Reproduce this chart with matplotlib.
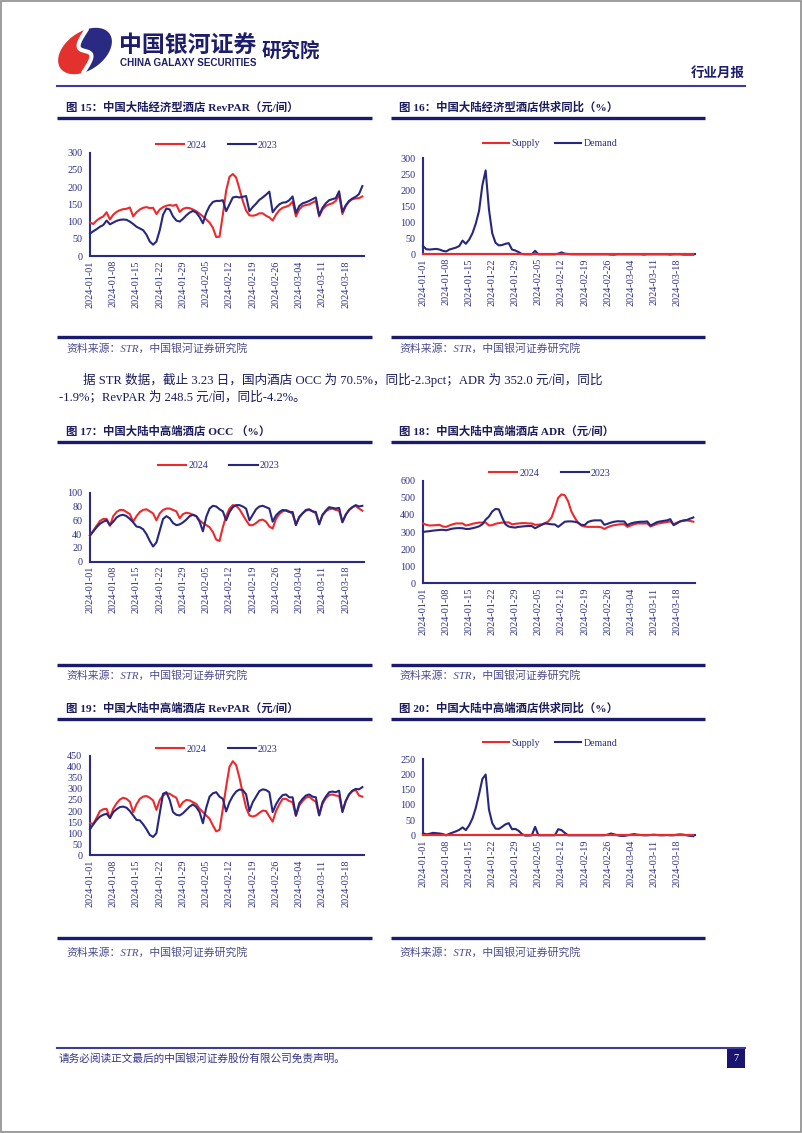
import matplotlib
matplotlib.use("Agg")
import matplotlib.pyplot as plt
from matplotlib.patches import Rectangle, Polygon
import numpy as np

plt.rcParams['font.family'] = ['Liberation Serif', 'Noto Sans CJK SC']

# ---- data (daily, 2024-01-01 .. 2024-03-23) ----
tick_labels = ["2024-01-01", "2024-01-08", "2024-01-15", "2024-01-22", "2024-01-29", "2024-02-05",
               "2024-02-12", "2024-02-19", "2024-02-26", "2024-03-04", "2024-03-11", "2024-03-18"]

econ_revpar_2024 = [97, 93, 103, 110, 115, 127, 106,
                    120, 128, 133, 136, 137, 141, 115,
                    127, 135, 140, 142, 139, 140, 122,
                    135, 142, 146, 148, 146, 149, 128,
                    137, 140, 139, 135, 130, 123, 115,
                    106, 97, 82, 55, 56, 120, 190,
                    230, 238, 228, 195, 160, 132, 118,
                    117, 119, 124, 124, 117, 112, 103,
                    120, 133, 140, 143, 147, 158, 115,
                    135, 145, 148, 150, 155, 160, 115,
                    135, 145, 150, 153, 160, 178, 122,
                    145, 158, 165, 167, 168, 173]
econ_revpar_2023 = [65, 72, 78, 85, 90, 103, 92,
                    97, 102, 105, 106, 105, 100, 93,
                    85, 80, 75, 62, 42, 33, 42,
                    75, 120, 138, 135, 115, 103, 100,
                    108, 118, 126, 131, 126, 113, 95,
                    125, 145, 157, 160, 160, 162, 130,
                    150, 170, 172, 170, 172, 174, 130,
                    142, 152, 163, 170, 178, 187, 127,
                    140, 150, 155, 156, 162, 173, 125,
                    145, 153, 156, 160, 165, 170, 118,
                    140, 153, 162, 165, 168, 188, 128,
                    147, 160, 167, 172, 180, 203]

econ_supply = [1, 1, 1, 1, 1, 1, 1,
               1, 1, 1, 1, 1, 1, 1,
               1, 1, 1, 1, 1, 1, 1,
               1, 1, 1, 1, 1, 1, 1,
               1, 1, 1, 1, 1, 1, 1,
               1, 1, 1, 1, 1, 1, 1,
               1, 1, 1, 1, 1, 1, 1,
               1, 1, 1, 1, 1, 1, 1,
               1, 1, 1, 1, 1, 1, 1,
               1, 1, 1, 1, 1, 1, 1,
               1, 1, 1, 1, 1, 1, 1,
               1, 1, 1, 1, 1, 1]
econ_demand = [25, 15, 14, 15, 16, 14, 10,
               8, 14, 17, 20, 25, 42, 32,
               45, 65, 95, 135, 215, 262, 140,
               65, 35, 27, 28, 32, 34, 14,
               11, 6, 0, -1, -1, -1, 10,
               -1, -1, -1, -1, -1, -1, 1,
               5, 1, 0, -1, -1, -1, -1,
               -1, -1, -1, -1, -1, -1, -1,
               -1, -2, -2, -1, -1, -1, -1,
               -1, -1, -1, -1, -2, -1, -1,
               -1, -1, -1, -1, -1, -2, -1,
               -1, -1, -2, -2, -2, -2]

mid_occ_2024 = [38, 45, 52, 59, 62, 62, 52,
                66, 72, 75, 75, 72, 69, 58,
                66, 72, 75, 76, 73, 70, 60,
                70, 75, 77, 77, 75, 73, 63,
                69, 71, 70, 68, 66, 60, 56,
                53, 50, 43, 32, 30, 50, 66,
                77, 82, 81, 76, 68, 60, 53,
                53, 56, 60, 61, 58, 51, 48,
                62, 69, 73, 75, 73, 69, 54,
                64, 70, 74, 75, 73, 70, 55,
                67, 73, 76, 77, 75, 74, 58,
                68, 75, 79, 81, 77, 74]
mid_occ_2023 = [38, 44, 50, 55, 58, 60, 53,
                58, 64, 67, 68, 66, 62, 57,
                51, 50, 47, 40, 30, 22, 28,
                45, 62, 66, 63, 56, 53, 54,
                57, 61, 66, 68, 66, 58, 44,
                65, 77, 81, 80, 76, 73, 60,
                72, 79, 82, 82, 80, 77, 60,
                68, 76, 80, 81, 79, 77, 58,
                67, 72, 75, 74, 72, 72, 53,
                65, 70, 75, 76, 73, 72, 54,
                68, 74, 79, 78, 77, 78, 57,
                68, 75, 79, 82, 80, 81]

mid_adr_2024 = [350, 342, 338, 339, 340, 342, 332,
                330, 338, 345, 350, 350, 350, 338,
                342, 348, 352, 355, 355, 356, 338,
                340, 348, 352, 355, 356, 356, 345,
                348, 350, 352, 352, 350, 350, 342,
                343, 345, 352, 362, 385, 440, 500,
                520, 515, 480, 420, 385, 355, 338,
                332, 330, 330, 330, 330, 328, 318,
                328, 335, 340, 343, 345, 346, 330,
                338, 345, 350, 350, 350, 350, 332,
                340, 348, 352, 355, 358, 362, 345,
                355, 362, 365, 368, 365, 360]
mid_adr_2023 = [300, 303, 305, 308, 310, 312, 313,
                310, 315, 320, 322, 323, 322, 318,
                318, 322, 327, 333, 345, 372, 390,
                420, 435, 432, 385, 345, 332, 328,
                326, 330, 332, 334, 335, 335, 322,
                332, 342, 350, 348, 345, 344, 330,
                345, 360, 362, 362, 360, 355, 342,
                340, 358, 365, 368, 368, 368, 342,
                348, 355, 360, 363, 362, 362, 340,
                350, 355, 358, 360, 360, 362, 338,
                348, 358, 362, 365, 368, 375, 340,
                350, 362, 368, 370, 378, 385]

mid_revpar_2024 = [145, 142, 170, 200, 208, 210, 168,
                   210, 235, 252, 260, 255, 242, 195,
                   230, 255, 265, 268, 260, 248, 205,
                   250, 270, 280, 278, 268, 260, 218,
                   240, 250, 248, 240, 232, 210, 195,
                   180, 165, 135, 108, 115, 210, 310,
                   400, 425, 408, 350, 280, 215, 180,
                   175, 180, 192, 202, 200, 175, 152,
                   200, 230, 255, 255, 245, 240, 178,
                   225, 245, 260, 265, 252, 242, 182,
                   232, 258, 272, 275, 270, 268, 200,
                   245, 275, 290, 295, 270, 265]
mid_revpar_2023 = [118, 140, 160, 175, 183, 188, 168,
                   195, 208, 218, 220, 215, 200, 180,
                   160, 158, 140, 118, 92, 83, 100,
                   190, 278, 285, 250, 195, 183, 180,
                   190, 205, 220, 230, 218, 195, 145,
                   215, 265, 280, 285, 265, 255, 198,
                   240, 268, 288, 297, 295, 275, 200,
                   240, 265, 290, 298, 295, 285, 195,
                   230, 255, 272, 275, 262, 262, 180,
                   235, 255, 270, 275, 265, 262, 180,
                   240, 265, 285, 288, 285, 292, 195,
                   245, 275, 292, 300, 298, 308]

mid_supply = [2, 2, 2, 2, 2, 2, 2,
              2, 2, 2, 2, 2, 2, 2,
              2, 2, 2, 2, 2, 2, 2,
              2, 2, 2, 2, 2, 2, 2,
              2, 2, 2, 2, 2, 2, 2,
              2, 2, 2, 2, 2, 2, 2,
              2, 2, 2, 2, 2, 2, 2,
              2, 2, 2, 2, 2, 2, 2,
              2, 2, 2, 2, 2, 2, 2,
              2, 2, 2, 2, 2, 2, 2,
              2, 2, 2, 2, 2, 2, 2,
              2, 2, 2, 2, 2, 2]
mid_demand = [7, 3, 5, 8, 7, 6, 4,
              0, 5, 9, 13, 18, 26, 17,
              33, 55, 90, 135, 185, 200, 85,
              40, 22, 21, 28, 36, 40, 20,
              21, 15, 4, -1, -1, 0, 28,
              0, 0, 0, 0, 0, 0, 20,
              17, 8, 0, 0, 0, 0, 0,
              0, 0, 0, 0, 0, 0, 0,
              2, 6, 3, 0, -2, -2, 0,
              2, 4, 2, 1, 0, 0, 1,
              2, 1, 0, 0, 1, 0, 0,
              2, 3, 2, 0, -2, -3]

# ---- styling ----
W, H = 802, 1133
RED = '#EC2A2C'
NAVY = '#27277F'
AXC = '#2B2B85'
TXT = '#2E2E86'
DARK = '#1B1B5E'

fig = plt.figure(figsize=(W / 100, H / 100), dpi=100)
page = fig.add_axes([0, 0, 1, 1])
page.set_xlim(0, W)
page.set_ylim(H, 0)
page.axis('off')

page.add_patch(Rectangle((0.8, 0.8), W - 1.8, H - 1.8, fill=False, ec='#8c8c8c', lw=1.2))

# ---- logo ----
cx, cy, a, b = 85, 51, 30, 19
th = np.radians(35)


def to_page(u, v):
    X = u * np.cos(th) - v * np.sin(th)
    Y = u * np.sin(th) + v * np.cos(th)
    return np.column_stack([cx + X, cy - Y])


t = np.linspace(-1, 1, 60)
u0, v0 = a * np.cos(np.radians(62)), b * np.sin(np.radians(62))
cu = u0 * t - 9 * np.sin(np.pi * t)
cv = v0 * t
phi_r = np.radians(np.linspace(62, 242, 80))
phi_n = np.radians(np.linspace(242, 422, 80))
red_poly = np.vstack([to_page(a * np.cos(phi_r), b * np.sin(phi_r)), to_page(cu, cv)])
navy_poly = np.vstack([to_page(a * np.cos(phi_n), b * np.sin(phi_n)), to_page(cu[::-1], cv[::-1])])
page.add_patch(Polygon(red_poly, closed=True, fc='#E3312D', ec='none'))
page.add_patch(Polygon(navy_poly, closed=True, fc='#2B2A83', ec='none'))
sc = to_page(cu, cv)
page.plot(sc[:, 0], sc[:, 1], color='white', lw=3, solid_capstyle='round')

cjk = ['Noto Sans CJK SC']
page.text(119, 45, "中国银河证券", fontsize=16.5, weight='bold', family=cjk, color='#1D1D6B', va='center')
page.text(262, 51, "研究院", fontsize=14, weight='bold', family=cjk, color='#1D1D6B', va='center')
page.text(120, 63.5, "CHINA GALAXY SECURITIES", fontsize=7.1, weight='bold', family='Liberation Sans',
          color='#1D1D6B', va='center')
page.text(745, 73, "行业月报", fontsize=9.7, weight='bold', family=cjk, color='#1D1D6B', va='center', ha='right')
page.plot([57, 745], [86, 86], color='#3D3D99', lw=1.5)

# ---- headings / rules ----
ser_cjk = ['Liberation Serif', 'Noto Sans CJK SC']


def heading(x, y, s):
    page.text(x, y, s, fontsize=8.2, weight='bold', family=ser_cjk, color=DARK, va='center')


def rule(x0, x1, y, lw=2.4):
    page.plot([x0, x1], [y, y], color='#1A1A6E', lw=lw, solid_capstyle='butt')


def source(x, y):
    page.text(x, y, "资料来源：STR，中国银河证券研究院", fontsize=7.8, style='italic',
              family=ser_cjk, color='#4B4B90', va='center')


heading(66, 107, "图 15：中国大陆经济型酒店 RevPAR（元/间）")
heading(399, 107, "图 16：中国大陆经济型酒店供求同比（%）")
rule(57, 372, 118)
rule(391, 705, 118)
rule(57, 372, 337)
rule(391, 705, 337)
source(66, 348)
source(399, 348)

page.text(83, 380, "据 STR 数据，截止 3.23 日，国内酒店 OCC 为 70.5%，同比-2.3pct；ADR 为 352.0 元/间，同比",
          fontsize=9.1, family=ser_cjk, color=DARK, va='center')
page.text(59, 397, "-1.9%；RevPAR 为 248.5 元/间，同比-4.2%。",
          fontsize=9.1, family=ser_cjk, color=DARK, va='center')

heading(66, 431, "图 17：中国大陆中高端酒店 OCC （%）")
heading(399, 431, "图 18：中国大陆中高端酒店 ADR（元/间）")
rule(57, 372, 442)
rule(391, 705, 442)
rule(57, 372, 665)
rule(391, 705, 665)
source(66, 675)
source(399, 675)

heading(66, 708, "图 19：中国大陆中高端酒店 RevPAR（元/间）")
heading(399, 708, "图 20：中国大陆中高端酒店供求同比（%）")
rule(57, 372, 719)
rule(391, 705, 719)
rule(57, 372, 938)
rule(391, 705, 938)
source(66, 952)
source(399, 952)

# ---- footer ----
page.plot([57, 745], [1048, 1048], color='#3D3D99', lw=1.5)
page.text(59, 1058, "请务必阅读正文最后的中国银河证券股份有限公司免责声明。", fontsize=7.7,
          family=ser_cjk, color='#34348A', va='center')
page.add_patch(Rectangle((727, 1049), 18, 19, fc='#1A1470', ec='none'))
page.text(736, 1058.5, "7", fontsize=7.5, color='white', ha='center', va='center')


# ---- charts ----
def chart(box, series, names, colors, ymax, ystep, leg_xy, handlelen, colspace, top_first=False):
    left, top, right, bottom = box
    ax = fig.add_axes([left / W, 1 - bottom / H, (right - left) / W, (bottom - top) / H])
    x = np.arange(len(series[0]))
    lines = []
    for i, (vals, name, col) in enumerate(zip(series, names, colors)):
        z = 4 - i if top_first else 3 + i
        ln, = ax.plot(x, vals, color=col, lw=1.5, label=name, clip_on=False, zorder=z)
        lines.append(ln)
    ax.set_xlim(0, 82.5)
    ax.set_ylim(0, ymax)
    ax.set_yticks(np.arange(0, ymax + 1, ystep))
    ax.set_xticks(np.arange(0, 7 * len(tick_labels), 7))
    ax.set_xticklabels(tick_labels, rotation=90, va='top', ha='center')
    for s in ['top', 'right']:
        ax.spines[s].set_visible(False)
    for s in ['left', 'bottom']:
        ax.spines[s].set_color(AXC)
        ax.spines[s].set_linewidth(1.5)
    ax.tick_params(axis='both', length=0, labelsize=7.3, labelcolor=TXT)
    ax.tick_params(axis='y', pad=5.5)
    ax.tick_params(axis='x', pad=3)
    ax.patch.set_alpha(0)
    ax.legend(lines, names, loc='center', bbox_to_anchor=(leg_xy[0] / W, 1 - leg_xy[1] / H),
              bbox_transform=fig.transFigure, ncol=2, frameon=False, fontsize=7.2,
              handlelength=handlelen, handletextpad=0.25, columnspacing=colspace,
              borderpad=0, borderaxespad=0, labelcolor=TXT)
    return ax


chart((90, 152.7, 364, 256), [econ_revpar_2024, econ_revpar_2023], ["2024", "2023"],
      [RED, NAVY], 300, 50, (217, 145), 2.8, 2.1)
chart((423, 158.3, 695, 254), [econ_supply, econ_demand], ["Supply", "Demand"],
      [RED, NAVY], 300, 50, (550, 144), 2.6, 1.5, top_first=True)
chart((90, 492.7, 364, 561.7), [mid_occ_2024, mid_occ_2023], ["2024", "2023"],
      [RED, NAVY], 100, 20, (219, 466), 2.8, 2.1)
chart((423, 480.7, 695, 583.3), [mid_adr_2024, mid_adr_2023], ["2024", "2023"],
      [RED, NAVY], 600, 100, (550, 473), 2.8, 2.1)
chart((90, 755.7, 364, 855.3), [mid_revpar_2024, mid_revpar_2023], ["2024", "2023"],
      [RED, NAVY], 450, 50, (217, 749), 2.8, 2.1)
chart((423, 759.3, 695, 835.3), [mid_supply, mid_demand], ["Supply", "Demand"],
      [RED, NAVY], 250, 50, (550, 743), 2.6, 1.5, top_first=True)

fig.savefig("out.png", dpi=100)
